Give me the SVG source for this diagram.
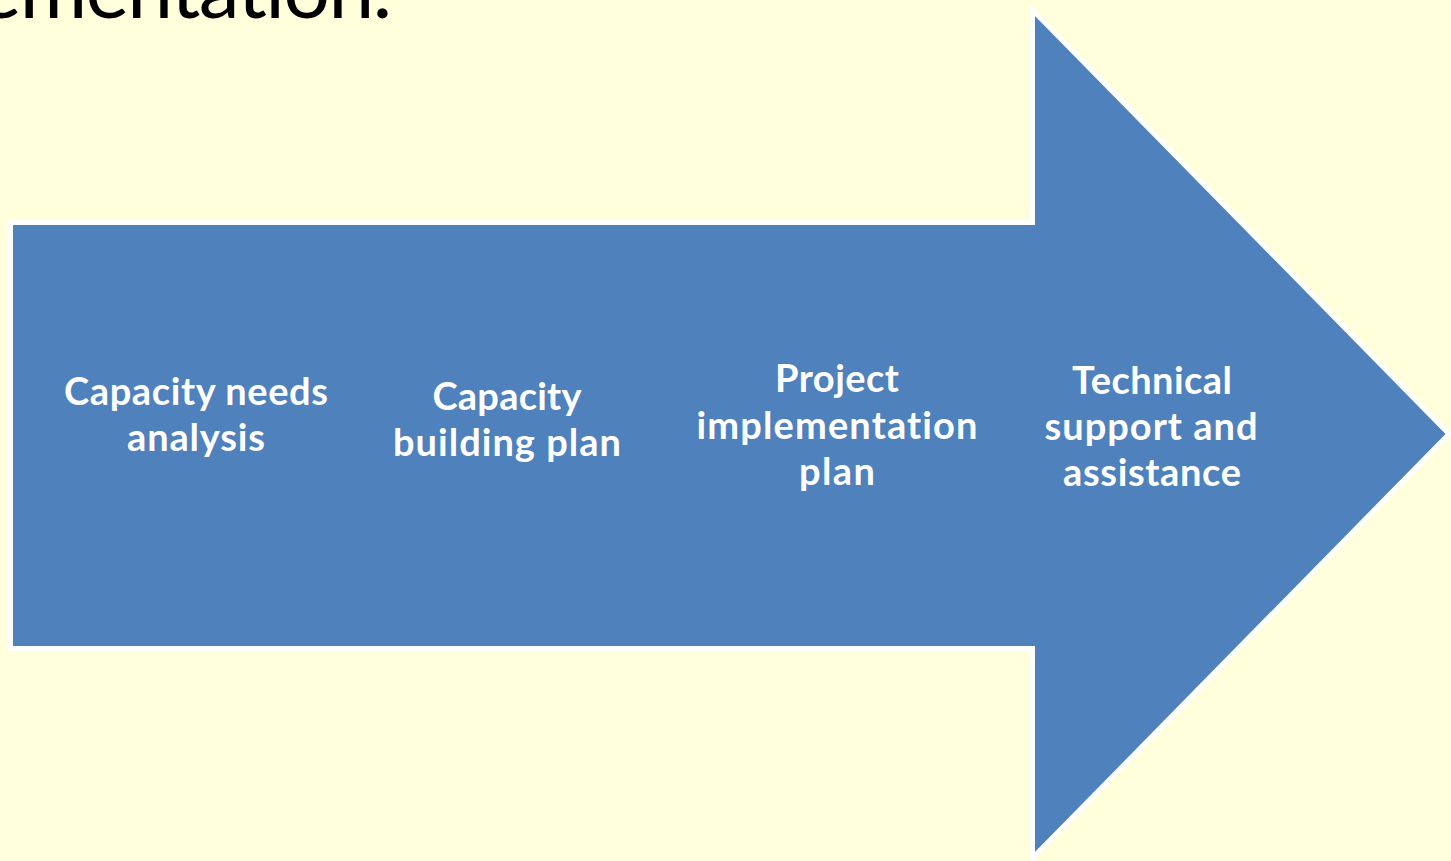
<svg xmlns="http://www.w3.org/2000/svg" width="1451" height="861" viewBox="0 0 1451 861">
<style>
.title{font-family:Lato,"Open Sans","Liberation Sans",sans-serif;font-size:82px;fill:#000;font-variant-ligatures:none}
.lbl{font-family:Lato,"Open Sans","Liberation Sans",sans-serif;font-weight:bold;font-size:38px;fill:#fff;text-anchor:middle;font-variant-ligatures:none}
.arrow{fill:#4F81BD;stroke:#fff;stroke-width:5;stroke-linejoin:miter}
</style>
<rect width="1451" height="861" fill="#FFFFDC"/>
<text class="title" x="-22" y="18" textLength="414">ementation.</text>
<g id="arrow">
<path class="arrow" d="M10.5,222.5 H1032.5 V10 L1449,434 L1032.5,858 V648.5 H10.5 Z"/>
</g>
<g id="connectors"></g>
<g id="node1">
<text class="lbl" x="196" y="405" textLength="264">Capacity needs</text>
<text class="lbl" x="196" y="451" textLength="138">analysis</text>
</g>
<g id="node2">
<text class="lbl" x="507" y="410" textLength="149">Capacity</text>
<text class="lbl" x="507" y="456" textLength="228">building plan</text>
</g>
<g id="node3">
<text class="lbl" x="837" y="392" textLength="124">Project</text>
<text class="lbl" x="837" y="439" textLength="281">implementation</text>
<text class="lbl" x="837" y="485" textLength="76">plan</text>
</g>
<g id="node4">
<text class="lbl" x="1152" y="394" textLength="160">Technical</text>
<text class="lbl" x="1151" y="440" textLength="213">support and</text>
<text class="lbl" x="1152" y="486" textLength="178">assistance</text>
</g>
</svg>
